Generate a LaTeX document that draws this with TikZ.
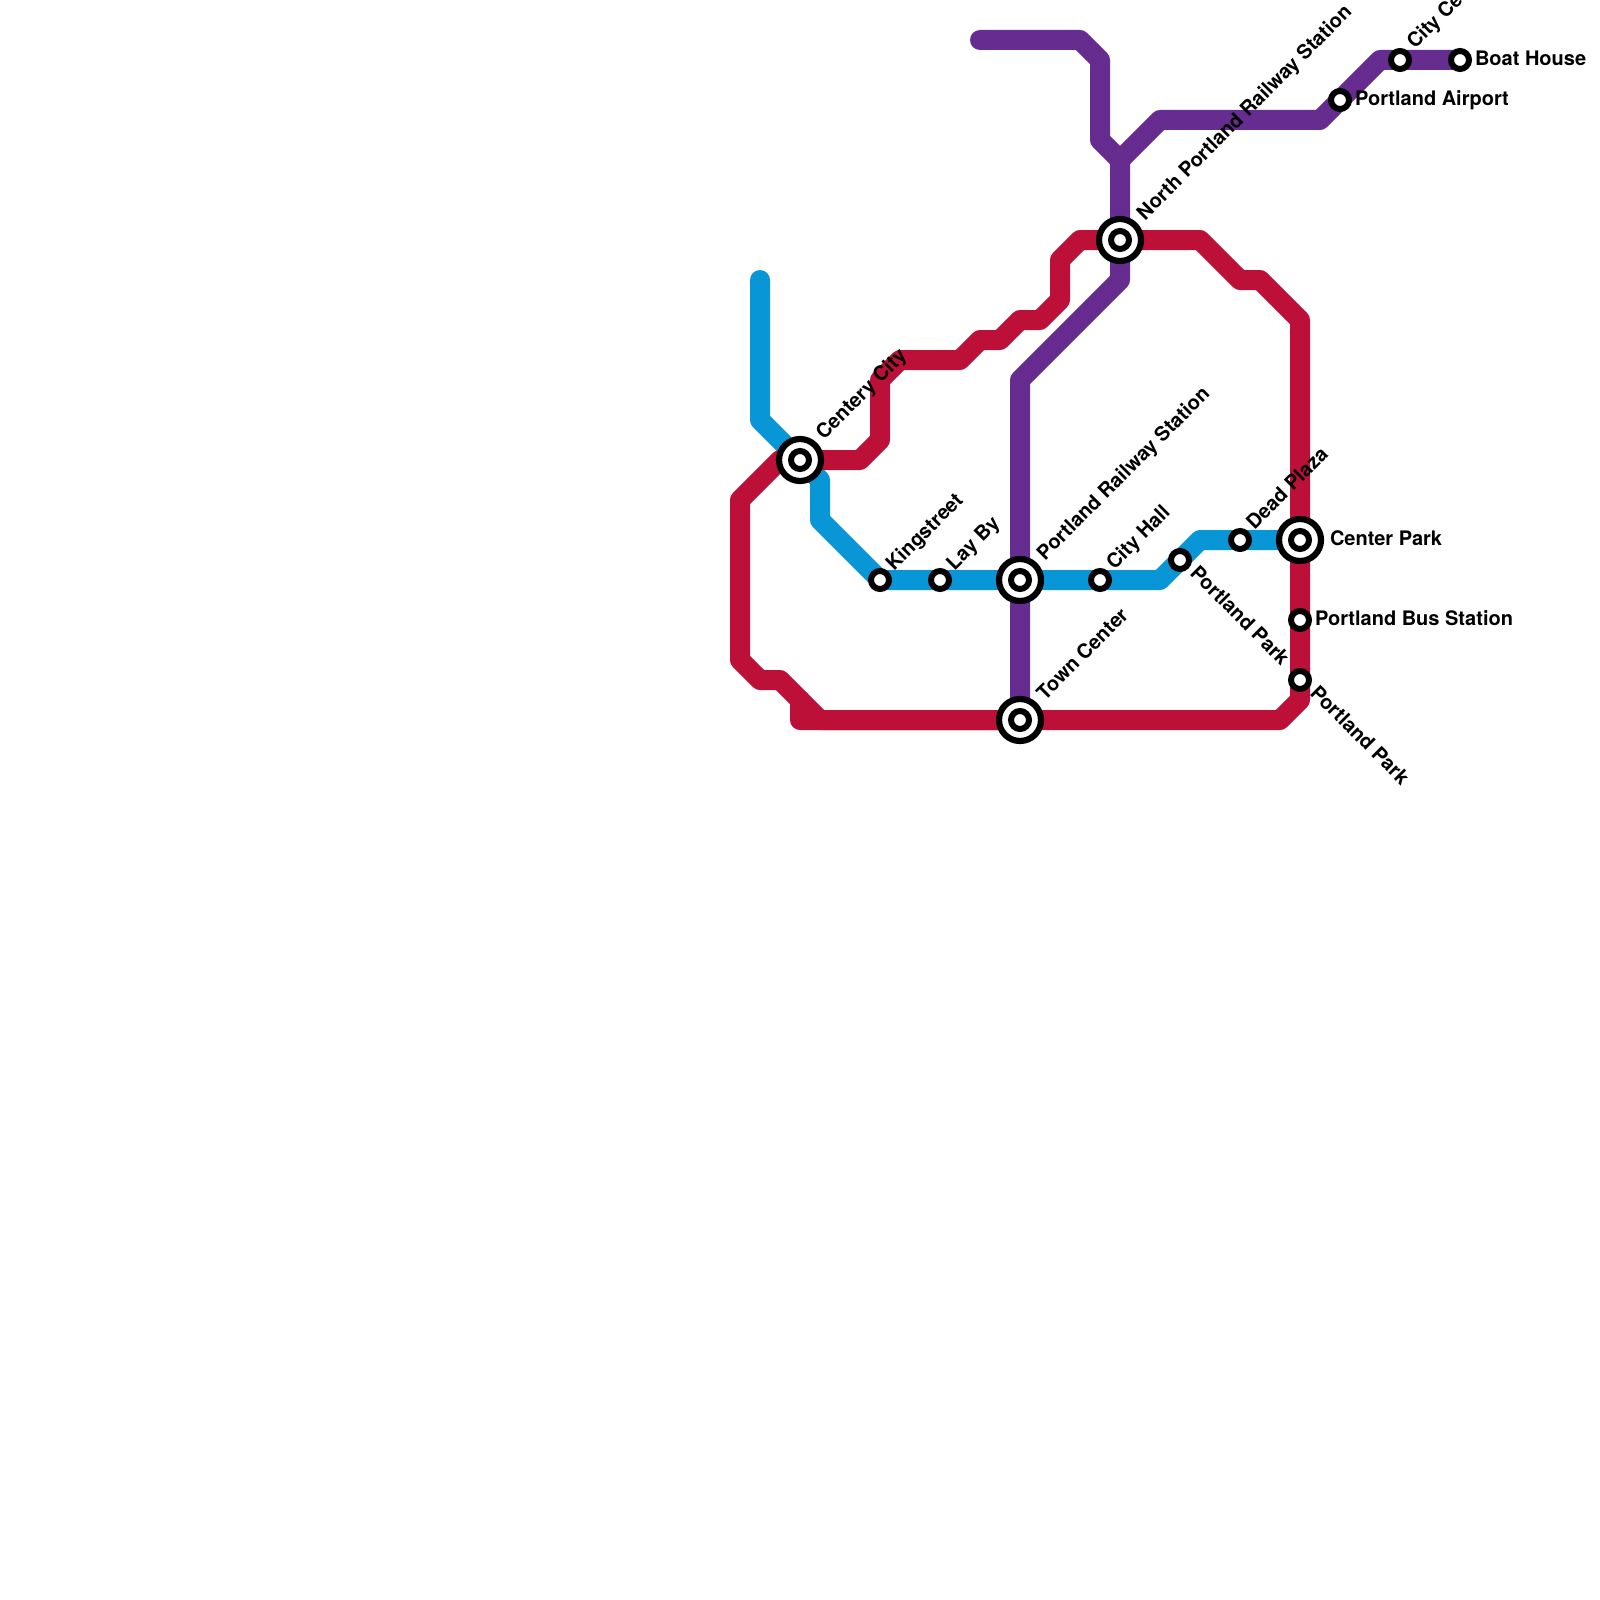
\documentclass[tikz,border=0pt]{standalone}
\usepackage{fontspec}
\setmainfont{TeX Gyre Heros}
\tikzset{
  line base/.style={line width=20pt,line cap=round,line join=round},
  redline/.style={line base,draw=lred},
  blueline/.style={line base,draw=lblue},
  purpleline/.style={line base,draw=lpurple},
  smallstn/.style={circle,draw=black,fill=white,line width=6pt,minimum size=18pt,inner sep=0pt,outer sep=0pt},
  bigstn/.style={circle,draw=black,fill=white,line width=6.2pt,minimum size=42pt,inner sep=0pt,outer sep=0pt},
  lbl/.style={anchor=base west,inner sep=0pt,outer sep=0pt,text=black,font=\bfseries\fontsize{20}{24}\selectfont},
  lblup/.style={lbl,rotate=45},
  lbldown/.style={lbl,rotate=-45}
}
\definecolor{lred}{HTML}{BD1038}
\definecolor{lblue}{HTML}{0896D7}
\definecolor{lpurple}{HTML}{662C90}
\begin{document}
\begin{tikzpicture}[x=1pt,y=-1pt]
\useasboundingbox (0,0) rectangle (1600,1600);
\fill[white] (0,0) rectangle (1600,1600);
% station positions
\coordinate (cCentery) at (800,460);
\coordinate (cKing) at (880,580);
\coordinate (cLay) at (940,580);
\coordinate (cRail) at (1020,580);
\coordinate (cHall) at (1100,580);
\coordinate (cTown) at (1020,720);
\coordinate (cParkA) at (1180,560);
\coordinate (cDead) at (1240,540);
\coordinate (cCenter) at (1300,540);
\coordinate (cBus) at (1300,620);
\coordinate (cParkB) at (1300,680);
\coordinate (cAir) at (1340,100);
\coordinate (cCity) at (1400,60);
\coordinate (cBoat) at (1460,60);
\coordinate (cNorth) at (1120,240);
\coordinate (blueStart) at (760,280);
\coordinate (purpleStart) at (980,40);
% blue line
\draw[blueline] (blueStart) -- (760,420) -- (cCentery) -- (820,480) -- (820,520) -- (cKing) -- (cLay) -- (cRail) -- (cHall) -- (1160,580) -- (1200,540) -- (cDead) -- (cCenter);
% red line
\draw[redline] (cCentery) -- (860,460) -- (880,440) -- (880,380) -- (900,360) -- (960,360) -- (980,340) -- (1000,340) -- (1020,320) -- (1040,320) -- (1060,300) -- (1060,260) -- (1080,240) -- (cNorth) -- (1200,240) -- (1240,280) -- (1260,280) -- (1300,320) -- (cCenter) -- (cBus) -- (cParkB) -- (1300,700) -- (1280,720) -- (cTown) -- (800,720) -- (800,700);
\draw[redline] (cCentery) -- (780,460) -- (740,500) -- (740,660) -- (760,680) -- (780,680) -- (820,720) -- (cTown);
% purple line
\draw[purpleline] (purpleStart) -- (1080,40) -- (1100,60) -- (1100,140) -- (1120,160) -- (cNorth) -- (1120,280) -- (1020,380) -- (cRail) -- (cTown);
\draw[purpleline] (1120,160) -- (1160,120) -- (1320,120) -- (cAir) -- (1380,60) -- (cCity) -- (cBoat);
% stations
\foreach \n/\c in {bCentery/cCentery,bRail/cRail,bTown/cTown,bCenter/cCenter,bNorth/cNorth}{
  \node[bigstn] (\n) at (\c) {};
  \node[smallstn] (\n i) at (\c) {};
}
\foreach \n/\c in {sKing/cKing,sLay/cLay,sHall/cHall,sParkA/cParkA,sDead/cDead,sBus/cBus,sParkB/cParkB,sAir/cAir,sCity/cCity,sBoat/cBoat}{
  \node[smallstn] (\n) at (\c) {};
}
% labels
\node[lblup] (tCentery) at ([shift={(24,-19.5)}]cCentery) {Centery City};
\node[lblup] (tKing) at ([shift={(14,-8.5)}]cKing) {Kingstreet};
\node[lblup] (tLay) at ([shift={(14.5,-9)}]cLay) {Lay By};
\node[lblup] (tRail) at ([shift={(25,-19)}]cRail) {Portland Railway Station};
\node[lblup] (tHall) at ([shift={(14.5,-9.5)}]cHall) {City Hall};
\node[lblup] (tTown) at ([shift={(25,-19)}]cTown) {Town Center};
\node[lblup] (tDead) at ([shift={(14.5,-9.5)}]cDead) {Dead Plaza};
\node[lblup] (tNorth) at ([shift={(25,-19)}]cNorth) {North Portland Railway Station};
\node[lblup] (tCity) at ([shift={(15,-10)}]cCity) {City Center};
\node[lbldown] (tParkA) at ([shift={(9,14.5)}]cParkA) {Portland Park};
\node[lbldown] (tParkB) at ([shift={(9,14)}]cParkB) {Portland Park};
\node[lbl] (tCenter) at ([shift={(30,5)}]cCenter) {Center Park};
\node[lbl] (tBus) at ([shift={(15,5)}]cBus) {Portland Bus Station};
\node[lbl] (tAir) at ([shift={(15,6)}]cAir) {Portland Airport};
\node[lbl] (tBoat) at ([shift={(15,6)}]cBoat) {Boat House};
\end{tikzpicture}
\end{document}
